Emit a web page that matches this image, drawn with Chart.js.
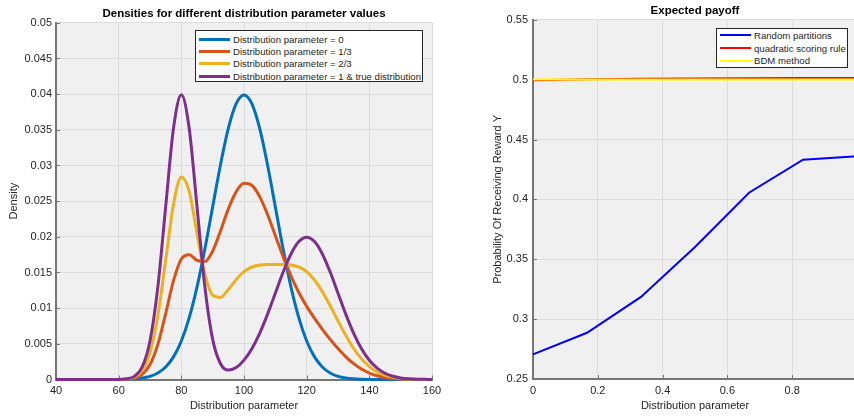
<!DOCTYPE html>
<html>
<head>
<meta charset="utf-8">
<title>Densities and expected payoff</title>
<script src="https://cdn.jsdelivr.net/npm/chart.js@4.4.0/dist/chart.umd.min.js"></script>
<style>
  html, body { margin: 0; padding: 0; background: #fff; width: 854px; height: 418px; overflow: hidden; }
  #wrap { position: relative; width: 854px; height: 418px; overflow: hidden; font-family: "Liberation Sans", Arial, sans-serif; }
  canvas { position: absolute; top: 0; }
  #densities { left: 0; }
  #payoff { left: 440px; }
  .legend { position: absolute; background: #fff; border: 1px solid #262626; font-size: 9.6px; color: #262626; box-sizing: border-box; }
  .legend .row { display: flex; align-items: center; white-space: nowrap; }
  .legend .swatch { display: inline-block; width: 31px; margin: 0 3px 0 3px; }
</style>
</head>
<body>
<div id="wrap">
  <canvas id="densities" width="470" height="418"></canvas>
  <canvas id="payoff" width="440" height="418"></canvas>
  <div class="legend" id="legendLeft" style="left:195px;top:30px;width:228px;height:52px;padding-top:2px;"></div>
  <div class="legend" id="legendRight" style="left:716px;top:28px;width:132px;height:40px;padding-top:0px;"></div>
</div>
<script>
// ---- left panel: densities ----
const densityX = [40, 42.5, 45, 47.5, 50, 52.5, 55, 57.5, 60, 62.5, 65, 67.5, 70, 72.5, 75, 77.5, 80, 82.5, 85, 87.5,
  90, 92.5, 95, 97.5, 100, 102.5, 105, 107.5, 110, 112.5, 115, 117.5, 120, 122.5, 125, 127.5, 130, 132.5, 135, 137.5,
  140, 142.5, 145, 147.5, 150, 152.5, 155, 157.5, 160];

const param0 = [0, 0, 0, 0, 0, 0, 0, 0,
  0.00001, 0.00004, 0.00009, 0.0002, 0.00044, 0.00091, 0.00175, 0.00317, 0.0054, 0.00863, 0.01295, 0.01826, 0.0242, 0.03011, 0.0352, 0.03866,
  0.03989,
  0.03866, 0.0352, 0.03011, 0.0242, 0.01826, 0.01295, 0.00863, 0.0054, 0.00317, 0.00175, 0.00091, 0.00044, 0.0002, 0.00009, 0.00004, 0.00001,
  0, 0, 0, 0, 0, 0, 0, 0];

const param13 = [0, 0, 0, 0, 0, 0, 0, 0,
  0.00001, 0.00005, 0.00021, 0.00072, 0.0021, 0.00492, 0.00924, 0.01385, 0.0169, 0.01749, 0.01671, 0.01653, 0.01801, 0.02081, 0.02391, 0.02633,
  0.0275,
  0.02722, 0.02563, 0.02312, 0.02016, 0.01719, 0.0145, 0.0122, 0.01025, 0.00856, 0.00704, 0.00563, 0.00433, 0.00318, 0.00222, 0.00146, 0.00091,
  0.00053, 0.00029, 0.00015, 0.00007, 0.00003, 0.00001, 0.00001, 0];

const param23 = [0, 0, 0, 0, 0, 0, 0, 0,
  0.00001, 0.00007, 0.00032, 0.00124, 0.00375, 0.00894, 0.01672, 0.02453, 0.0284, 0.02636, 0.02048, 0.01479, 0.01181, 0.01151, 0.01261, 0.014,
  0.01511,
  0.01577, 0.01605, 0.01613, 0.01613, 0.01613, 0.01605, 0.01577, 0.0151, 0.01395, 0.01232, 0.01034, 0.00821, 0.00616, 0.00435, 0.00289, 0.00181,
  0.00106, 0.00058, 0.0003, 0.00015, 0.00007, 0.00003, 0.00001, 0];

const param1 = [0, 0, 0, 0, 0, 0, 0, 0,
  0.00001, 0.00009, 0.00044, 0.00175, 0.0054, 0.01295, 0.0242, 0.03521, 0.0399, 0.03522, 0.02424, 0.01305, 0.00562, 0.00221, 0.00132, 0.00167,
  0.00271,
  0.00432, 0.00648, 0.00913, 0.0121, 0.01506, 0.0176, 0.01933, 0.01995, 0.01933, 0.0176, 0.01506, 0.0121, 0.00913, 0.00648, 0.00431, 0.0027,
  0.00159, 0.00088, 0.00046, 0.00022, 0.0001, 0.00004, 0.00002, 0.00001];

const densityNames = ['Distribution parameter = 0', 'Distribution parameter = 1/3',
  'Distribution parameter = 2/3', 'Distribution parameter = 1 & true distribution'];
const densityColors = ['#0072BD', '#D95319', '#EDB120', '#7E2F8E'];

// ---- right panel: expected payoff ----
const payoffX = [0, 0.1667, 0.3333, 0.5, 0.6667, 0.8333, 1];
const randomPartitions = [0.2706, 0.2886, 0.3186, 0.3603, 0.4056, 0.4331, 0.436];
const quadraticRule = [0.4996, 0.5004, 0.5007, 0.5009, 0.5011, 0.5013, 0.5014];
const bdmMethod = [0.5002, 0.5002, 0.5001, 0.5002, 0.5001, 0.5001, 0.5001];
const payoffNames = ['Random partitions', 'quadratic scoring rule', 'BDM method'];
const payoffColors = ['#0000FF', '#FF0000', '#FFFF00'];

const AXIS_COLOR = '#767676';
const GRID_COLOR = '#dcdcdc';
const TEXT_COLOR = '#262626';

Chart.defaults.font.family = '"Liberation Sans", Arial, Helvetica, sans-serif';
Chart.defaults.font.size = 11;
Chart.defaults.color = TEXT_COLOR;

const fmt = v => String(parseFloat(Number(v).toFixed(4)));
const toPoints = (xs, ys) => xs.map((x, i) => ({ x: x, y: ys[i] }));

// grey plot area + MATLAB style inward ticks
const axesLook = {
  id: 'axesLook',
  beforeDraw(chart) {
    const { ctx, chartArea: a } = chart;
    ctx.save();
    ctx.fillStyle = '#f0f0f0';
    ctx.fillRect(a.left, a.top, a.right - a.left, a.bottom - a.top);
    ctx.restore();
  },
  beforeDatasetsDraw(chart) {
    const { ctx, chartArea: a, scales } = chart;
    ctx.save();
    ctx.strokeStyle = AXIS_COLOR;
    ctx.lineWidth = 1;
    ctx.beginPath();
    scales.x.ticks.forEach(t => {
      const px = Math.round(scales.x.getPixelForValue(t.value)) + 0.5;
      ctx.moveTo(px, a.bottom);
      ctx.lineTo(px, a.bottom - 4);
    });
    scales.y.ticks.forEach(t => {
      const py = Math.round(scales.y.getPixelForValue(t.value)) + 0.5;
      ctx.moveTo(a.left, py);
      ctx.lineTo(a.left + 4, py);
    });
    ctx.stroke();
    ctx.restore();
  }
};

function axisOpts(min, max, step, title, titlePad, size, tickPad) {
  return {
    type: 'linear',
    min: min,
    max: max,
    grid: { color: GRID_COLOR, lineWidth: 1, drawTicks: false },
    border: { color: AXIS_COLOR, width: 2 },
    ticks: { stepSize: step, padding: tickPad, color: TEXT_COLOR, callback: fmt, maxRotation: 0, autoSkip: false },
    title: { display: true, text: title, color: TEXT_COLOR, font: { size: 11 }, padding: titlePad },
    afterFit: s => { if (s.isHorizontal()) s.height = size; else s.width = size; }
  };
}

function buildLegend(id, names, colors, rowH, thick) {
  const box = document.getElementById(id);
  names.forEach((n, i) => {
    const row = document.createElement('div');
    row.className = 'row';
    row.style.height = rowH + 'px';
    const sw = document.createElement('span');
    sw.className = 'swatch';
    sw.style.height = thick + 'px';
    sw.style.background = colors[i];
    const tx = document.createElement('span');
    tx.textContent = n;
    row.appendChild(sw);
    row.appendChild(tx);
    box.appendChild(row);
  });
}

const densitySeries = [param0, param13, param23, param1];

new Chart(document.getElementById('densities'), {
  type: 'line',
  data: {
    datasets: densitySeries.map((ys, i) => ({
      label: densityNames[i],
      data: toPoints(densityX, ys),
      borderColor: densityColors[i],
      backgroundColor: densityColors[i],
      borderWidth: 3,
      pointRadius: 0,
      cubicInterpolationMode: 'monotone',
      clip: 4,
      order: 4 - i
    }))
  },
  options: {
    responsive: false,
    animation: false,
    devicePixelRatio: 1,
    layout: { padding: { left: 0, right: 38, top: 0, bottom: 0 } },
    plugins: {
      legend: { display: false },
      tooltip: { enabled: false },
      title: {
        display: true,
        fullSize: false,
        text: 'Densities for different distribution parameter values',
        color: '#000',
        font: { size: 11.5, weight: 'bold' },
        padding: { top: 7, bottom: 2 }
      }
    },
    scales: {
      x: axisOpts(40, 160, 20, 'Distribution parameter', { top: 0, bottom: 5 }, 38.5, 5),
      y: axisOpts(0, 0.05, 0.005, 'Density', { top: 7, bottom: 0 }, 56, 4)
    }
  },
  plugins: [axesLook]
});

const payoffSeries = [randomPartitions, quadraticRule, bdmMethod];

new Chart(document.getElementById('payoff'), {
  type: 'line',
  data: {
    datasets: payoffSeries.map((ys, i) => ({
      label: payoffNames[i],
      data: toPoints(payoffX, ys),
      borderColor: payoffColors[i],
      backgroundColor: payoffColors[i],
      borderWidth: 2,
      pointRadius: 0,
      tension: 0,
      clip: 4,
      order: 3 - i
    }))
  },
  options: {
    responsive: false,
    animation: false,
    devicePixelRatio: 1,
    layout: { padding: { left: 0, right: 23, top: 0, bottom: 0 } },
    plugins: {
      legend: { display: false },
      tooltip: { enabled: false },
      title: {
        display: true,
        fullSize: false,
        text: 'Expected payoff',
        color: '#000',
        font: { size: 11.5, weight: 'bold' },
        padding: { top: 4, bottom: 2 }
      }
    },
    scales: {
      x: axisOpts(0, 1, 0.2, 'Distribution parameter', { top: 0, bottom: 5 }, 39, 5),
      y: axisOpts(0.25, 0.55, 0.05, 'Probability Of Receiving Reward Y', { top: 51, bottom: 0 }, 93, 5)
    }
  },
  plugins: [axesLook]
});

buildLegend('legendLeft', densityNames, densityColors, 12.4, 3);
buildLegend('legendRight', payoffNames, payoffColors, 12.8, 2);
</script>
</body>
</html>
